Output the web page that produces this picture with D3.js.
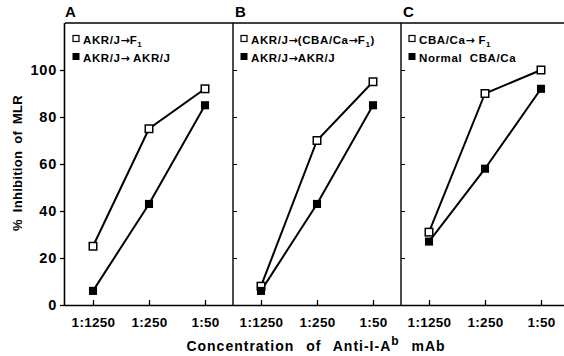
<!DOCTYPE html>
<html><head><meta charset="utf-8">
<script src="https://cdn.jsdelivr.net/npm/d3@7"></script>
<style>body{margin:0;background:#fff}svg{display:block}text{font-family:"Liberation Sans",Arial,sans-serif;font-weight:bold;fill:#000}</style>
</head><body>
<svg id="c" width="564" height="356"></svg>
<script>
const categories = ["1:1250", "1:250", "1:50"];
const panelLabels = ["A", "B", "C"];
const yTicks = [0, 20, 40, 60, 80, 100];
// series per panel: open (first legend entry) and filled (second)
const openA = [25, 75, 92];
const filledA = [6, 43, 85];
const openB = [8, 70, 95];
const filledB = [6, 43, 85];
const openC = [31, 90, 100];
const filledC = [27, 58, 92];
const legendA = [["AKR/J→F", "1", ""], ["AKR/J→ AKR/J", "", ""]];
const legendB = [["AKR/J→(CBA/Ca→F", "1", ")"], ["AKR/J→AKR/J", "", ""]];
const legendC = [["CBA/Ca→ F", "1", ""], ["Normal  CBA/Ca", "", ""]];

const panels = [
  {label: panelLabels[0], open: openA, filled: filledA, legend: legendA},
  {label: panelLabels[1], open: openB, filled: filledB, legend: legendB},
  {label: panelLabels[2], open: openC, filled: filledC, legend: legendC}
];

const svg = d3.select("#c");
const mLeft = 65, panelW = 168, mTop = 23, mBottom = 305;
const y = d3.scaleLinear().domain([0, 120]).range([mBottom, mTop]);

// left axis
const yAxis = d3.axisLeft(y).tickValues(yTicks).tickSize(5).tickPadding(3);
const ga = svg.append("g").attr("transform", `translate(${mLeft},0)`).call(yAxis);
ga.select(".domain").attr("stroke", "#000").attr("stroke-width", 1.6).attr("d", `M-0.5,${mBottom}V${mTop}`);
ga.selectAll(".tick line").attr("stroke-width", 1.3);
ga.selectAll(".tick text").style("font-size", "14.5px").style("letter-spacing", "0.8px").style("font-family", "'Liberation Sans',Arial,sans-serif").style("font-weight", "bold");

// top line
svg.append("line").attr("x1", mLeft).attr("x2", 564).attr("y1", mTop).attr("y2", mTop).attr("stroke", "#000").attr("stroke-width", 1.6);
// bottom line
svg.append("line").attr("x1", mLeft).attr("x2", 564).attr("y1", mBottom + 0.5).attr("y2", mBottom + 0.5).attr("stroke", "#000").attr("stroke-width", 1.6);

panels.forEach((p, i) => {
  const x0 = mLeft + i * panelW;
  const x = d3.scalePoint().domain(categories).range([x0, x0 + panelW]).padding(0.5);
  const g = svg.append("g");
  // divider with inward ticks
  if (i > 0) {
    g.append("line").attr("x1", x0).attr("x2", x0).attr("y1", mTop).attr("y2", mBottom).attr("stroke", "#000").attr("stroke-width", 1.4);
    const ra = d3.axisRight(y).tickValues(yTicks.slice(1)).tickSize(4).tickFormat("");
    const gr = g.append("g").attr("transform", `translate(${x0},0)`).call(ra);
    gr.select(".domain").remove();
  }
  // x axis ticks (inward) and labels
  const xa = d3.axisBottom(x).tickSize(-5).tickPadding(12);
  const gx = g.append("g").attr("transform", `translate(0,${mBottom})`).call(xa);
  gx.select(".domain").remove();
  gx.selectAll(".tick line").attr("stroke-width", 1.3);
  gx.selectAll(".tick text").style("font-size", "13.5px").style("letter-spacing", "0.3px").style("font-family", "'Liberation Sans',Arial,sans-serif").style("font-weight", "bold");

  // panel label
  g.append("text").attr("x", x0 + (i === 0 ? 0 : 2)).attr("y", 17).style("font-size", "15px").text(p.label);

  // lines
  const line = d3.line().x((d, j) => x(categories[j])).y(d => y(d));
  [p.open, p.filled].forEach(s => {
    g.append("path").attr("d", line(s)).attr("fill", "none").attr("stroke", "#000").attr("stroke-width", 2);
  });
  const sz = 7.5;
  g.selectAll(".op").data(p.open).enter().append("rect")
    .attr("x", (d, j) => x(categories[j]) - sz / 2).attr("y", d => y(d) - sz / 2)
    .attr("width", sz).attr("height", sz).attr("fill", "#fff").attr("stroke", "#000").attr("stroke-width", 1.5);
  g.selectAll(".fp").data(p.filled).enter().append("rect")
    .attr("x", (d, j) => x(categories[j]) - sz / 2 - 0.3).attr("y", d => y(d) - sz / 2 - 0.3)
    .attr("width", sz + 0.6).attr("height", sz + 0.6).attr("fill", "#000");

  // legend
  p.legend.forEach((L, k) => {
    const ly = 39 + k * 18;
    const lx = x0 + 8;
    if (k === 0) {
      g.append("rect").attr("x", lx).attr("y", ly - 3.5).attr("width", 6).attr("height", 6).attr("fill", "#fff").attr("stroke", "#000").attr("stroke-width", 1.2);
    } else {
      g.append("rect").attr("x", lx - 0.5).attr("y", ly - 4).attr("width", 7).attr("height", 7).attr("fill", "#000");
    }
    const t = g.append("text").attr("x", lx + 10).attr("y", ly + 4.5).style("font-size", "11.5px").style("letter-spacing", "0.6px").attr("xml:space", "preserve");
    L[0].split(/(→)/).forEach(part => {
      if (!part) return;
      const ts = t.append("tspan").text(part);
      if (part === "→") ts.style("font-family", "'DejaVu Sans',sans-serif").style("font-size", "11px").style("letter-spacing", "0px");
    });
    if (L[1]) t.append("tspan").attr("dy", 3).style("font-size", "8px").text(L[1]);
    if (L[2]) t.append("tspan").attr("dy", -3).text(L[2]);
  });
});

// axis titles
svg.append("text").attr("transform", "translate(22,163) rotate(-90)").attr("text-anchor", "middle")
  .style("font-size", "13px").style("letter-spacing", "0.3px").style("word-spacing", "3px").text("% Inhibition of MLR");
const xt = svg.append("text").attr("x", 316).attr("y", 351).attr("text-anchor", "middle").style("font-size", "14px").style("letter-spacing", "1px").style("word-spacing", "7px");
xt.append("tspan").text("Concentration of Anti-I-A");
xt.append("tspan").attr("dy", -6).style("font-size", "12px").text("b");
xt.append("tspan").attr("dy", 6).text(" mAb");
</script>
</body></html>
